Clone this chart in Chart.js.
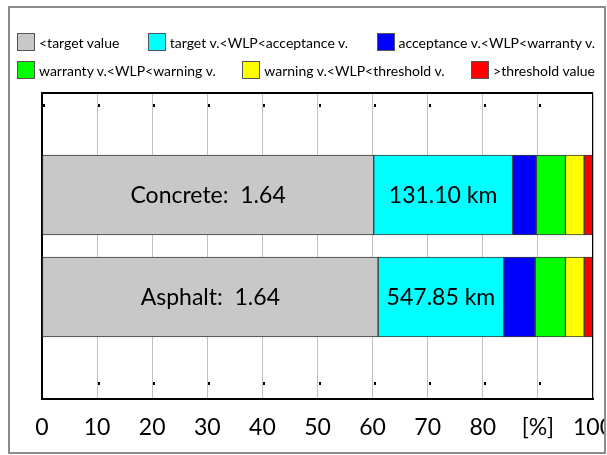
<!DOCTYPE html>
<html>
<head>
<meta charset="utf-8">
<script src="https://cdn.jsdelivr.net/npm/chart.js"></script>
<style>
  html, body { margin: 0; padding: 0; background: #fff; }
  #page { position: relative; width: 607px; height: 455px; overflow: hidden; font-family: Lato, sans-serif; }
  #frame { position: absolute; left: 8px; top: 6px; width: 594px; height: 444px; border: 2px solid #8c8c8c; overflow: hidden; }
  #frame canvas { position: absolute; left: -10px; top: -8px; }
  #legend { position: absolute; left: 17px; top: 28px; width: 578px; }
  .row { display: flex; justify-content: space-between; align-items: center; height: 28px; }
  .item { display: flex; align-items: center; font-size: 14px; color: #000; white-space: pre; }
  .box { width: 18px; height: 18px; border: 1px solid #555; margin-right: 4px; box-sizing: border-box; }
</style>
</head>
<body>
<div id="page">
  <div id="frame"><canvas id="wlpChart" width="607" height="455"></canvas></div>
  <div id="legend"></div>
</div>
<script>
// surfaces (empty slots keep the bars off the top and bottom of the plot)
var surfaces = ['', 'Concrete', 'Asphalt', ''];
var surfaceLabels = [null, 'Concrete:  1.64', 'Asphalt:  1.64', null];
var lengthLabels = [null, '131.10 km', '547.85 km', null];

// share of network length in each WLP class [%]
var belowTarget = [null, 60.2, 61.0, null];
var targetToAcceptance = [null, 25.2, 22.8, null];
var acceptanceToWarranty = [null, 4.3, 5.7, null];
var warrantyToWarning = [null, 5.3, 5.5, null];
var warningToThreshold = [null, 3.4, 3.4, null];
var aboveThreshold = [null, 1.6, 1.6, null];

var classNames = ['<target value', 'target v.<WLP<acceptance v.', 'acceptance v.<WLP<warranty v.',
                  'warranty v.<WLP<warning v.', 'warning v.<WLP<threshold v.', '>threshold value'];
var classColors = ['#c8c8c8', '#00ffff', '#0000ff', '#00ff00', '#ffff00', '#ff0000'];
var tickLabels = ['0', '10', '20', '30', '40', '50', '60', '70', '80', '[%]', '100'];

var classData = [belowTarget, targetToAcceptance, acceptanceToWarranty,
                 warrantyToWarning, warningToThreshold, aboveThreshold];

// text inside the first two segments
var barText = {
    id: 'barText',
    afterDatasetsDraw: function(chart) {
        var ctx = chart.ctx;
        ctx.save();
        ctx.font = '23px Lato';
        ctx.fillStyle = '#000';
        ctx.textAlign = 'center';
        ctx.textBaseline = 'middle';
        [[0, surfaceLabels], [1, lengthLabels]].forEach(function(p) {
            chart.getDatasetMeta(p[0]).data.forEach(function(bar, j) {
                if (!p[1][j]) return;
                var c = bar.getCenterPoint();
                ctx.fillText(p[1][j], c.x, c.y + 1);
            });
        });
        ctx.restore();
    }
};

// top / right plot border and the small tick marks
var plotFrame = {
    id: 'plotFrame',
    afterDraw: function(chart) {
        var ctx = chart.ctx, a = chart.chartArea, x = chart.scales.x;
        ctx.save();
        ctx.strokeStyle = '#000';
        ctx.lineWidth = 2;
        ctx.beginPath();
        ctx.moveTo(a.left - 1, a.top);
        ctx.lineTo(a.right, a.top);
        ctx.stroke();
        ctx.lineWidth = 1;
        ctx.beginPath();
        ctx.moveTo(a.right - 0.5, a.top);
        ctx.lineTo(a.right - 0.5, a.bottom);
        ctx.stroke();
        ctx.fillStyle = '#000';
        x.ticks.forEach(function(t) {
            var px = Math.round(x.getPixelForValue(t.value));
            if (t.value < 100) ctx.fillRect(px + 1, a.top + 11, 2, 3);
            if (t.value > 0 && t.value < 100) ctx.fillRect(px + 1, a.bottom - 17, 2, 3);
        });
        ctx.restore();
    }
};

var ctx = document.getElementById('wlpChart');
var wlpChart = new Chart(ctx, {
    type: 'bar',
    data: {
        labels: surfaces,
        datasets: classData.map(function(d, i) {
            return {
                label: classNames[i],
                data: d,
                backgroundColor: classColors[i],
                borderColor: '#3a3a3a',
                borderWidth: 1,
                borderSkipped: false,
                barThickness: 80
            };
        })
    },
    plugins: [barText, plotFrame],
    options: {
        indexAxis: 'y',
        responsive: false,
        animation: false,
        layout: { padding: { left: 42, right: 14, top: 93, bottom: 0 } },
        plugins: {
            legend: { display: false },
            tooltip: { enabled: false }
        },
        scales: {
            x: {
                stacked: true,
                min: 0,
                max: 100,
                ticks: {
                    stepSize: 10,
                    padding: 15,
                    color: '#000',
                    font: { family: 'Lato', size: 23 },
                    maxRotation: 0,
                    autoSkip: false,
                    callback: function(v, i) { return tickLabels[i]; }
                },
                grid: { color: '#c0c0c0', lineWidth: 1, drawTicks: false },
                border: { color: '#000', width: 2 },
                afterFit: function(s) { s.paddingLeft = 0; s.paddingRight = 0; s.height = 56; }
            },
            y: {
                stacked: true,
                offset: false,
                ticks: { display: false },
                grid: { display: false, drawTicks: false },
                border: { color: '#000', width: 2 }
            }
        }
    }
});

// legend built from the chart's own datasets
var legend = document.getElementById('legend');
var items = wlpChart.data.datasets.map(function(ds) {
    var el = document.createElement('div');
    el.className = 'item';
    var box = document.createElement('span');
    box.className = 'box';
    box.style.background = ds.backgroundColor;
    el.appendChild(box);
    el.appendChild(document.createTextNode(ds.label));
    return el;
});
[items.slice(0, 3), items.slice(3)].forEach(function(rowItems) {
    var row = document.createElement('div');
    row.className = 'row';
    rowItems.forEach(function(el) { row.appendChild(el); });
    legend.appendChild(row);
});
</script>
</body>
</html>
